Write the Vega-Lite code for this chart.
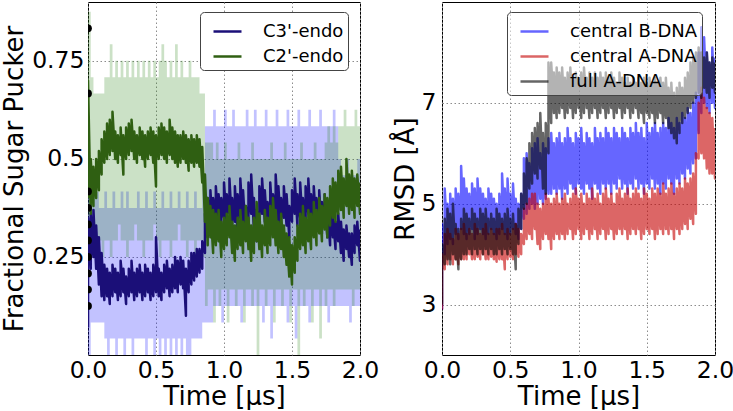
{
"$schema": "https://vega.github.io/schema/vega-lite/v6.json",
"background": "white",
"padding": {"left": 0, "top": 1, "right": 0, "bottom": 0},
"config": {
  "font": "DejaVu Sans",
  "view": {"stroke": "black", "strokeWidth": 1},
  "axis": {"labelFont": "DejaVu Sans", "titleFont": "DejaVu Sans", "labelFontSize": 23.5, "titleFontSize": 26, "titleFontWeight": "normal", "labelColor": "black", "titleColor": "black", "ticks": false, "domain": false, "grid": true, "gridColor": "#8c8c8c", "gridDash": [1.5, 2.5], "gridWidth": 1, "gridOpacity": 1, "zindex": 1, "labelPadding": 4, "labelFlush": false, "labelOverlap": false},
  "legend": {"labelFont": "DejaVu Sans", "labelFontSize": 18, "labelColor": "black", "symbolType": "stroke", "symbolSize": 784, "symbolStrokeWidth": 2.5, "strokeColor": "#444444", "cornerRadius": 4, "padding": 4, "rowPadding": -2, "labelOffset": 20, "symbolOffset": 8}
},
"datasets": {
"left": [
{"t":0,"b0":0,"b1":0.417,"g0":0.292,"g1":0.875,"u0":0.07,"u1":0.35,"w0":0.40,"w1":0.70},
{"t":0.02,"b0":0.083,"b1":0.417,"g0":0.292,"g1":0.708,"u0":0.22,"u1":0.36,"w0":0.36,"w1":0.50},
{"t":0.04,"b0":0.083,"b1":0.458,"g0":0.25,"g1":0.667,"u0":0.25,"u1":0.37,"w0":0.38,"w1":0.48},
{"t":0.06,"b0":0.083,"b1":0.417,"g0":0.292,"g1":0.667,"u0":0.22,"u1":0.33,"w0":0.40,"w1":0.50},
{"t":0.08,"b0":0.083,"b1":0.375,"g0":0.292,"g1":0.667,"u0":0.18,"u1":0.30,"w0":0.42,"w1":0.52},
{"t":0.10,"b0":0.083,"b1":0.375,"g0":0.25,"g1":0.667,"u0":0.15,"u1":0.26,"w0":0.46,"w1":0.55},
{"t":0.12,"b0":0.042,"b1":0.417,"g0":0.292,"g1":0.708,"u0":0.14,"u1":0.23,"w0":0.49,"w1":0.57},
{"t":0.14,"b0":0,"b1":0.375,"g0":0.292,"g1":0.708,"u0":0.15,"u1":0.22,"w0":0.50,"w1":0.59},
{"t":0.16,"b0":0.042,"b1":0.375,"g0":0.25,"g1":0.792,"u0":0.13,"u1":0.21,"w0":0.51,"w1":0.60},
{"t":0.18,"b0":0.042,"b1":0.417,"g0":0.292,"g1":0.708,"u0":0.15,"u1":0.23,"w0":0.52,"w1":0.62},
{"t":0.20,"b0":0,"b1":0.375,"g0":0.292,"g1":0.75,"u0":0.16,"u1":0.22,"w0":0.50,"w1":0.57},
{"t":0.22,"b0":0.042,"b1":0.375,"g0":0.333,"g1":0.708,"u0":0.14,"u1":0.21,"w0":0.49,"w1":0.56},
{"t":0.24,"b0":0.042,"b1":0.417,"g0":0.292,"g1":0.75,"u0":0.15,"u1":0.24,"w0":0.51,"w1":0.58},
{"t":0.26,"b0":0,"b1":0.375,"g0":0.292,"g1":0.708,"u0":0.16,"u1":0.22,"w0":0.46,"w1":0.56},
{"t":0.28,"b0":0.042,"b1":0.417,"g0":0.25,"g1":0.75,"u0":0.13,"u1":0.20,"w0":0.50,"w1":0.58},
{"t":0.30,"b0":0.042,"b1":0.375,"g0":0.292,"g1":0.708,"u0":0.15,"u1":0.22,"w0":0.51,"w1":0.59},
{"t":0.32,"b0":0,"b1":0.375,"g0":0.292,"g1":0.75,"u0":0.16,"u1":0.24,"w0":0.52,"w1":0.60},
{"t":0.34,"b0":0.042,"b1":0.375,"g0":0.333,"g1":0.708,"u0":0.14,"u1":0.21,"w0":0.50,"w1":0.57},
{"t":0.36,"b0":0.042,"b1":0.417,"g0":0.292,"g1":0.75,"u0":0.15,"u1":0.22,"w0":0.49,"w1":0.56},
{"t":0.38,"b0":0.042,"b1":0.375,"g0":0.292,"g1":0.708,"u0":0.16,"u1":0.23,"w0":0.51,"w1":0.58},
{"t":0.40,"b0":0.042,"b1":0.375,"g0":0.25,"g1":0.75,"u0":0.14,"u1":0.21,"w0":0.50,"w1":0.57},
{"t":0.42,"b0":0,"b1":0.417,"g0":0.292,"g1":0.708,"u0":0.15,"u1":0.23,"w0":0.48,"w1":0.56},
{"t":0.44,"b0":0.042,"b1":0.375,"g0":0.292,"g1":0.75,"u0":0.16,"u1":0.22,"w0":0.50,"w1":0.57},
{"t":0.46,"b0":0.042,"b1":0.375,"g0":0.292,"g1":0.708,"u0":0.14,"u1":0.21,"w0":0.51,"w1":0.58},
{"t":0.48,"b0":0,"b1":0.417,"g0":0.333,"g1":0.75,"u0":0.15,"u1":0.23,"w0":0.49,"w1":0.57},
{"t":0.50,"b0":0.042,"b1":0.375,"g0":0.292,"g1":0.708,"u0":0.16,"u1":0.30,"w0":0.43,"w1":0.56},
{"t":0.52,"b0":0,"b1":0.375,"g0":0.25,"g1":0.75,"u0":0.15,"u1":0.22,"w0":0.50,"w1":0.58},
{"t":0.54,"b0":0.042,"b1":0.417,"g0":0.292,"g1":0.792,"u0":0.14,"u1":0.21,"w0":0.51,"w1":0.59},
{"t":0.56,"b0":0,"b1":0.375,"g0":0.292,"g1":0.75,"u0":0.16,"u1":0.23,"w0":0.50,"w1":0.58},
{"t":0.58,"b0":0.042,"b1":0.375,"g0":0.292,"g1":0.708,"u0":0.17,"u1":0.24,"w0":0.49,"w1":0.57},
{"t":0.60,"b0":0,"b1":0.417,"g0":0.25,"g1":0.75,"u0":0.15,"u1":0.22,"w0":0.51,"w1":0.60},
{"t":0.62,"b0":0.042,"b1":0.375,"g0":0.292,"g1":0.708,"u0":0.16,"u1":0.23,"w0":0.50,"w1":0.58},
{"t":0.64,"b0":0,"b1":0.375,"g0":0.292,"g1":0.792,"u0":0.17,"u1":0.25,"w0":0.49,"w1":0.57},
{"t":0.66,"b0":0.042,"b1":0.417,"g0":0.333,"g1":0.708,"u0":0.16,"u1":0.24,"w0":0.48,"w1":0.56},
{"t":0.68,"b0":0,"b1":0.375,"g0":0.292,"g1":0.75,"u0":0.18,"u1":0.25,"w0":0.49,"w1":0.56},
{"t":0.70,"b0":0.042,"b1":0.375,"g0":0.292,"g1":0.708,"u0":0.17,"u1":0.24,"w0":0.50,"w1":0.57},
{"t":0.72,"b0":0,"b1":0.417,"g0":0.25,"g1":0.708,"u0":0.10,"u1":0.22,"w0":0.49,"w1":0.56},
{"t":0.74,"b0":0,"b1":0.375,"g0":0.292,"g1":0.75,"u0":0.16,"u1":0.24,"w0":0.47,"w1":0.55},
{"t":0.76,"b0":0.042,"b1":0.375,"g0":0.292,"g1":0.708,"u0":0.18,"u1":0.26,"w0":0.49,"w1":0.56},
{"t":0.78,"b0":0.042,"b1":0.417,"g0":0.25,"g1":0.708,"u0":0.19,"u1":0.26,"w0":0.48,"w1":0.55},
{"t":0.80,"b0":0.042,"b1":0.375,"g0":0.292,"g1":0.708,"u0":0.20,"u1":0.27,"w0":0.49,"w1":0.56},
{"t":0.82,"b0":0.042,"b1":0.375,"g0":0.292,"g1":0.667,"u0":0.21,"u1":0.27,"w0":0.48,"w1":0.55},
{"t":0.84,"b0":0.083,"b1":0.458,"g0":0.25,"g1":0.667,"u0":0.22,"u1":0.29,"w0":0.44,"w1":0.53},
{"t":0.86,"b0":0.083,"b1":0.583,"g0":0.125,"g1":0.542,"u0":0.26,"u1":0.36,"w0":0.34,"w1":0.46},
{"t":0.88,"b0":0.083,"b1":0.583,"g0":0.167,"g1":0.542,"u0":0.30,"u1":0.40,"w0":0.28,"w1":0.40},
{"t":0.90,"b0":0.083,"b1":0.583,"g0":0.167,"g1":0.542,"u0":0.32,"u1":0.42,"w0":0.30,"w1":0.38},
{"t":0.92,"b0":0.125,"b1":0.625,"g0":0.083,"g1":0.5,"u0":0.30,"u1":0.40,"w0":0.26,"w1":0.37},
{"t":0.94,"b0":0.125,"b1":0.583,"g0":0.167,"g1":0.542,"u0":0.34,"u1":0.43,"w0":0.28,"w1":0.36},
{"t":0.96,"b0":0.125,"b1":0.583,"g0":0.125,"g1":0.5,"u0":0.33,"u1":0.41,"w0":0.29,"w1":0.37},
{"t":0.98,"b0":0.083,"b1":0.583,"g0":0.167,"g1":0.5,"u0":0.31,"u1":0.40,"w0":0.25,"w1":0.34},
{"t":1.00,"b0":0.125,"b1":0.625,"g0":0.167,"g1":0.542,"u0":0.35,"u1":0.44,"w0":0.27,"w1":0.35},
{"t":1.02,"b0":0.125,"b1":0.583,"g0":0.083,"g1":0.5,"u0":0.33,"u1":0.41,"w0":0.28,"w1":0.36},
{"t":1.04,"b0":0.125,"b1":0.583,"g0":0.167,"g1":0.5,"u0":0.36,"u1":0.45,"w0":0.30,"w1":0.38},
{"t":1.06,"b0":0.125,"b1":0.625,"g0":0.167,"g1":0.5,"u0":0.32,"u1":0.40,"w0":0.26,"w1":0.34},
{"t":1.08,"b0":0.125,"b1":0.583,"g0":0.125,"g1":0.5,"u0":0.34,"u1":0.43,"w0":0.24,"w1":0.33},
{"t":1.10,"b0":0.125,"b1":0.583,"g0":0.167,"g1":0.542,"u0":0.31,"u1":0.41,"w0":0.27,"w1":0.35},
{"t":1.12,"b0":0.083,"b1":0.583,"g0":0.167,"g1":0.5,"u0":0.35,"u1":0.45,"w0":0.28,"w1":0.37},
{"t":1.14,"b0":0.125,"b1":0.583,"g0":0.083,"g1":0.5,"u0":0.33,"u1":0.42,"w0":0.26,"w1":0.34},
{"t":1.16,"b0":0.125,"b1":0.625,"g0":0.167,"g1":0.5,"u0":0.30,"u1":0.38,"w0":0.29,"w1":0.38},
{"t":1.18,"b0":0.125,"b1":0.583,"g0":0.167,"g1":0.5,"u0":0.34,"u1":0.44,"w0":0.27,"w1":0.35},
{"t":1.20,"b0":0.125,"b1":0.583,"g0":0.125,"g1":0.542,"u0":0.36,"u1":0.46,"w0":0.24,"w1":0.33},
{"t":1.22,"b0":0.125,"b1":0.625,"g0":0.167,"g1":0.5,"u0":0.32,"u1":0.40,"w0":0.26,"w1":0.35},
{"t":1.24,"b0":0.125,"b1":0.583,"g0":0,"g1":0.5,"u0":0.29,"u1":0.37,"w0":0.29,"w1":0.39},
{"t":1.26,"b0":0.125,"b1":0.583,"g0":0.167,"g1":0.5,"u0":0.33,"u1":0.43,"w0":0.27,"w1":0.36},
{"t":1.28,"b0":0.083,"b1":0.583,"g0":0.167,"g1":0.5,"u0":0.36,"u1":0.45,"w0":0.25,"w1":0.33},
{"t":1.30,"b0":0.125,"b1":0.625,"g0":0.125,"g1":0.5,"u0":0.34,"u1":0.42,"w0":0.28,"w1":0.37},
{"t":1.32,"b0":0.125,"b1":0.583,"g0":0.167,"g1":0.5,"u0":0.31,"u1":0.39,"w0":0.26,"w1":0.35},
{"t":1.34,"b0":0.042,"b1":0.583,"g0":0.167,"g1":0.542,"u0":0.35,"u1":0.44,"w0":0.28,"w1":0.38},
{"t":1.36,"b0":0.125,"b1":0.583,"g0":0.083,"g1":0.5,"u0":0.33,"u1":0.41,"w0":0.30,"w1":0.40},
{"t":1.38,"b0":0.125,"b1":0.625,"g0":0.167,"g1":0.5,"u0":0.36,"u1":0.46,"w0":0.28,"w1":0.37},
{"t":1.40,"b0":0.125,"b1":0.583,"g0":0.167,"g1":0.5,"u0":0.34,"u1":0.43,"w0":0.26,"w1":0.34},
{"t":1.42,"b0":0.125,"b1":0.583,"g0":0.125,"g1":0.5,"u0":0.31,"u1":0.40,"w0":0.27,"w1":0.36},
{"t":1.44,"b0":0.125,"b1":0.583,"g0":0.167,"g1":0.542,"u0":0.35,"u1":0.43,"w0":0.25,"w1":0.33},
{"t":1.46,"b0":0.083,"b1":0.625,"g0":0.167,"g1":0.5,"u0":0.33,"u1":0.41,"w0":0.23,"w1":0.31},
{"t":1.48,"b0":0.125,"b1":0.583,"g0":0.083,"g1":0.5,"u0":0.30,"u1":0.38,"w0":0.20,"w1":0.30},
{"t":1.50,"b0":0.125,"b1":0.583,"g0":0.167,"g1":0.5,"u0":0.34,"u1":0.42,"w0":0.18,"w1":0.28},
{"t":1.52,"b0":0.042,"b1":0.583,"g0":0.167,"g1":0.5,"u0":0.36,"u1":0.45,"w0":0.21,"w1":0.30},
{"t":1.54,"b0":0.125,"b1":0.625,"g0":0,"g1":0.5,"u0":0.33,"u1":0.41,"w0":0.24,"w1":0.33},
{"t":1.56,"b0":0.125,"b1":0.583,"g0":0.167,"g1":0.542,"u0":0.35,"u1":0.44,"w0":0.27,"w1":0.36},
{"t":1.58,"b0":0.125,"b1":0.583,"g0":0.125,"g1":0.5,"u0":0.32,"u1":0.40,"w0":0.28,"w1":0.38},
{"t":1.60,"b0":0.125,"b1":0.583,"g0":0.167,"g1":0.5,"u0":0.34,"u1":0.43,"w0":0.26,"w1":0.35},
{"t":1.62,"b0":0.083,"b1":0.625,"g0":0.167,"g1":0.5,"u0":0.36,"u1":0.45,"w0":0.29,"w1":0.37},
{"t":1.64,"b0":0.125,"b1":0.583,"g0":0.083,"g1":0.5,"u0":0.33,"u1":0.41,"w0":0.27,"w1":0.36},
{"t":1.66,"b0":0.125,"b1":0.583,"g0":0.167,"g1":0.542,"u0":0.35,"u1":0.43,"w0":0.30,"w1":0.39},
{"t":1.68,"b0":0.125,"b1":0.583,"g0":0.167,"g1":0.5,"u0":0.32,"u1":0.40,"w0":0.28,"w1":0.37},
{"t":1.70,"b0":0.125,"b1":0.625,"g0":0.042,"g1":0.5,"u0":0.34,"u1":0.42,"w0":0.31,"w1":0.40},
{"t":1.72,"b0":0.125,"b1":0.583,"g0":0.167,"g1":0.5,"u0":0.31,"u1":0.39,"w0":0.29,"w1":0.38},
{"t":1.74,"b0":0.125,"b1":0.583,"g0":0.125,"g1":0.542,"u0":0.33,"u1":0.41,"w0":0.32,"w1":0.41},
{"t":1.76,"b0":0.083,"b1":0.583,"g0":0.167,"g1":0.583,"u0":0.30,"u1":0.38,"w0":0.30,"w1":0.40},
{"t":1.78,"b0":0.125,"b1":0.583,"g0":0.167,"g1":0.542,"u0":0.28,"u1":0.37,"w0":0.33,"w1":0.43},
{"t":1.80,"b0":0.125,"b1":0.625,"g0":0.125,"g1":0.583,"u0":0.30,"u1":0.36,"w0":0.35,"w1":0.45},
{"t":1.82,"b0":0.125,"b1":0.583,"g0":0.167,"g1":0.542,"u0":0.27,"u1":0.34,"w0":0.34,"w1":0.44},
{"t":1.84,"b0":0.125,"b1":0.5,"g0":0.167,"g1":0.583,"u0":0.29,"u1":0.36,"w0":0.36,"w1":0.47},
{"t":1.86,"b0":0.125,"b1":0.458,"g0":0.167,"g1":0.583,"u0":0.26,"u1":0.34,"w0":0.37,"w1":0.48},
{"t":1.88,"b0":0.125,"b1":0.458,"g0":0.167,"g1":0.625,"u0":0.24,"u1":0.32,"w0":0.35,"w1":0.45},
{"t":1.90,"b0":0.125,"b1":0.5,"g0":0.167,"g1":0.583,"u0":0.27,"u1":0.33,"w0":0.38,"w1":0.50},
{"t":1.92,"b0":0.083,"b1":0.458,"g0":0.167,"g1":0.583,"u0":0.25,"u1":0.31,"w0":0.36,"w1":0.46},
{"t":1.94,"b0":0.125,"b1":0.458,"g0":0.125,"g1":0.583,"u0":0.23,"u1":0.31,"w0":0.37,"w1":0.47},
{"t":1.96,"b0":0.125,"b1":0.458,"g0":0.167,"g1":0.625,"u0":0.26,"u1":0.33,"w0":0.35,"w1":0.45},
{"t":1.98,"b0":0.125,"b1":0.5,"g0":0.167,"g1":0.583,"u0":0.28,"u1":0.34,"w0":0.38,"w1":0.46},
{"t":2.00,"b0":0.125,"b1":0.458,"g0":0.167,"g1":0.583,"u0":0.24,"u1":0.32,"w0":0.36,"w1":0.44}
],
"dots": [
{"t":0,"v":0.833},{"t":0,"v":0.667},{"t":0,"v":0.417},{"t":0,"v":0.375},{"t":0,"v":0.333},
{"t":0,"v":0.292},{"t":0,"v":0.25},{"t":0,"v":0.208},{"t":0,"v":0.167},{"t":0,"v":0.125}
],
"right": [
{"t":0,"B0":2.9,"B1":4.6,"A0":2.9,"A1":4.0,"F0":3.0,"F1":4.2},
{"t":0.02,"B0":4.0,"B1":5.3,"A0":3.7,"A1":4.4,"F0":3.8,"F1":4.7},
{"t":0.04,"B0":4.2,"B1":5.0,"A0":3.8,"A1":4.5,"F0":3.9,"F1":4.9},
{"t":0.06,"B0":4.3,"B1":5.2,"A0":3.9,"A1":4.4,"F0":3.8,"F1":4.8},
{"t":0.08,"B0":4.2,"B1":5.1,"A0":3.8,"A1":4.3,"F0":4.0,"F1":5.0},
{"t":0.10,"B0":4.4,"B1":5.3,"A0":3.9,"A1":4.5,"F0":3.9,"F1":4.6},
{"t":0.12,"B0":4.3,"B1":5.2,"A0":3.8,"A1":4.4,"F0":3.7,"F1":4.5},
{"t":0.14,"B0":4.5,"B1":5.75,"A0":3.9,"A1":4.5,"F0":3.9,"F1":4.7},
{"t":0.16,"B0":4.4,"B1":5.5,"A0":3.9,"A1":4.6,"F0":4.0,"F1":4.9},
{"t":0.18,"B0":4.3,"B1":5.3,"A0":3.9,"A1":4.4,"F0":4.0,"F1":4.8},
{"t":0.20,"B0":4.4,"B1":5.2,"A0":4.0,"A1":4.5,"F0":4.1,"F1":4.7},
{"t":0.22,"B0":4.5,"B1":5.4,"A0":3.9,"A1":4.4,"F0":4.0,"F1":4.9},
{"t":0.24,"B0":4.3,"B1":5.3,"A0":3.9,"A1":4.6,"F0":4.1,"F1":4.8},
{"t":0.26,"B0":4.4,"B1":5.5,"A0":3.95,"A1":4.5,"F0":4.0,"F1":4.7},
{"t":0.28,"B0":4.5,"B1":5.3,"A0":3.9,"A1":4.4,"F0":4.1,"F1":4.9},
{"t":0.30,"B0":4.4,"B1":5.2,"A0":4.0,"A1":4.5,"F0":4.0,"F1":4.8},
{"t":0.32,"B0":4.3,"B1":5.1,"A0":3.9,"A1":4.6,"F0":4.1,"F1":4.9},
{"t":0.34,"B0":4.4,"B1":5.3,"A0":3.9,"A1":4.4,"F0":4.0,"F1":4.7},
{"t":0.36,"B0":4.5,"B1":5.2,"A0":3.95,"A1":4.5,"F0":4.1,"F1":4.8},
{"t":0.38,"B0":4.4,"B1":5.1,"A0":3.9,"A1":4.4,"F0":4.0,"F1":4.7},
{"t":0.40,"B0":4.3,"B1":5.0,"A0":3.85,"A1":4.5,"F0":4.0,"F1":4.9},
{"t":0.42,"B0":4.4,"B1":5.2,"A0":3.9,"A1":4.5,"F0":4.1,"F1":4.8},
{"t":0.44,"B0":4.5,"B1":5.6,"A0":3.9,"A1":4.6,"F0":4.0,"F1":4.7},
{"t":0.46,"B0":4.4,"B1":5.3,"A0":3.7,"A1":4.4,"F0":4.1,"F1":4.8},
{"t":0.48,"B0":4.3,"B1":5.5,"A0":3.9,"A1":4.5,"F0":4.0,"F1":4.9},
{"t":0.50,"B0":4.4,"B1":5.2,"A0":3.95,"A1":4.4,"F0":4.1,"F1":4.7},
{"t":0.52,"B0":4.5,"B1":5.4,"A0":3.9,"A1":4.5,"F0":4.0,"F1":4.8},
{"t":0.54,"B0":4.4,"B1":5.1,"A0":4.0,"A1":4.6,"F0":3.7,"F1":4.6},
{"t":0.56,"B0":4.3,"B1":5.0,"A0":3.95,"A1":4.5,"F0":4.2,"F1":4.9},
{"t":0.58,"B0":4.5,"B1":5.2,"A0":4.0,"A1":4.4,"F0":4.5,"F1":5.2},
{"t":0.60,"B0":4.7,"B1":5.9,"A0":4.2,"A1":4.9,"F0":4.9,"F1":5.6},
{"t":0.62,"B0":4.8,"B1":6.0,"A0":4.3,"A1":5.0,"F0":5.0,"F1":5.9},
{"t":0.64,"B0":4.9,"B1":5.8,"A0":4.4,"A1":5.1,"F0":5.3,"F1":6.2},
{"t":0.66,"B0":5.0,"B1":6.1,"A0":4.3,"A1":5.2,"F0":5.4,"F1":6.4},
{"t":0.68,"B0":4.9,"B1":6.2,"A0":4.5,"A1":5.2,"F0":5.6,"F1":6.5},
{"t":0.70,"B0":5.0,"B1":6.3,"A0":4.2,"A1":5.0,"F0":5.5,"F1":6.6},
{"t":0.72,"B0":5.1,"B1":6.0,"A0":4.1,"A1":4.9,"F0":5.7,"F1":6.8},
{"t":0.74,"B0":5.0,"B1":6.2,"A0":4.3,"A1":5.0,"F0":5.3,"F1":6.4},
{"t":0.76,"B0":5.1,"B1":6.1,"A0":4.4,"A1":5.2,"F0":5.2,"F1":6.6},
{"t":0.78,"B0":5.2,"B1":6.3,"A0":4.3,"A1":5.1,"F0":6.0,"F1":7.8},
{"t":0.80,"B0":5.2,"B1":6.4,"A0":4.1,"A1":5.0,"F0":6.6,"F1":7.8},
{"t":0.82,"B0":5.3,"B1":6.2,"A0":4.3,"A1":5.1,"F0":6.8,"F1":7.6},
{"t":0.84,"B0":5.2,"B1":6.3,"A0":4.4,"A1":5.2,"F0":6.7,"F1":7.7},
{"t":0.86,"B0":5.3,"B1":6.4,"A0":4.3,"A1":5.0,"F0":6.8,"F1":7.6},
{"t":0.88,"B0":5.1,"B1":6.2,"A0":4.4,"A1":5.1,"F0":6.9,"F1":7.7},
{"t":0.90,"B0":5.3,"B1":6.3,"A0":4.3,"A1":5.2,"F0":6.7,"F1":7.5},
{"t":0.92,"B0":5.2,"B1":6.5,"A0":4.4,"A1":5.0,"F0":6.8,"F1":7.6},
{"t":0.94,"B0":5.4,"B1":6.3,"A0":4.5,"A1":5.1,"F0":6.9,"F1":7.7},
{"t":0.96,"B0":5.3,"B1":6.2,"A0":4.3,"A1":5.2,"F0":6.7,"F1":7.5},
{"t":0.98,"B0":5.2,"B1":6.4,"A0":4.4,"A1":5.3,"F0":6.8,"F1":7.6},
{"t":1.00,"B0":5.4,"B1":6.3,"A0":4.5,"A1":5.1,"F0":6.9,"F1":7.5},
{"t":1.02,"B0":5.3,"B1":6.5,"A0":4.3,"A1":5.2,"F0":6.7,"F1":7.6},
{"t":1.04,"B0":5.2,"B1":6.2,"A0":4.4,"A1":5.0,"F0":6.8,"F1":7.7},
{"t":1.06,"B0":5.4,"B1":6.4,"A0":4.5,"A1":5.2,"F0":6.9,"F1":7.5},
{"t":1.08,"B0":5.3,"B1":6.3,"A0":4.3,"A1":5.1,"F0":6.7,"F1":7.6},
{"t":1.10,"B0":5.1,"B1":6.2,"A0":4.4,"A1":5.3,"F0":6.8,"F1":7.5},
{"t":1.12,"B0":5.4,"B1":6.5,"A0":4.5,"A1":5.1,"F0":6.9,"F1":7.6},
{"t":1.14,"B0":5.3,"B1":6.3,"A0":4.3,"A1":5.2,"F0":6.7,"F1":7.5},
{"t":1.16,"B0":5.2,"B1":6.4,"A0":4.4,"A1":5.0,"F0":6.8,"F1":7.6},
{"t":1.18,"B0":5.4,"B1":6.3,"A0":4.5,"A1":5.2,"F0":6.9,"F1":7.5},
{"t":1.20,"B0":5.3,"B1":6.5,"A0":4.3,"A1":5.3,"F0":6.7,"F1":7.6},
{"t":1.22,"B0":5.4,"B1":6.4,"A0":4.4,"A1":5.1,"F0":6.8,"F1":7.5},
{"t":1.24,"B0":5.2,"B1":6.3,"A0":4.5,"A1":5.2,"F0":6.9,"F1":7.6},
{"t":1.26,"B0":5.4,"B1":6.5,"A0":4.3,"A1":5.0,"F0":6.7,"F1":7.5},
{"t":1.28,"B0":5.3,"B1":6.4,"A0":4.4,"A1":5.2,"F0":6.8,"F1":7.4},
{"t":1.30,"B0":5.5,"B1":6.3,"A0":4.5,"A1":5.3,"F0":6.9,"F1":7.6},
{"t":1.32,"B0":5.3,"B1":6.5,"A0":4.4,"A1":5.1,"F0":6.7,"F1":7.5},
{"t":1.34,"B0":5.4,"B1":6.4,"A0":4.5,"A1":5.2,"F0":6.8,"F1":7.4},
{"t":1.36,"B0":5.2,"B1":6.3,"A0":4.3,"A1":5.3,"F0":6.9,"F1":7.5},
{"t":1.38,"B0":5.4,"B1":6.5,"A0":4.4,"A1":5.1,"F0":6.7,"F1":7.4},
{"t":1.40,"B0":5.3,"B1":6.4,"A0":4.5,"A1":5.2,"F0":6.8,"F1":7.5},
{"t":1.42,"B0":5.5,"B1":6.6,"A0":4.4,"A1":5.3,"F0":6.9,"F1":7.4},
{"t":1.44,"B0":5.3,"B1":6.4,"A0":4.5,"A1":5.2,"F0":6.7,"F1":7.5},
{"t":1.46,"B0":5.4,"B1":6.5,"A0":4.3,"A1":5.1,"F0":6.8,"F1":7.4},
{"t":1.48,"B0":5.2,"B1":6.3,"A0":4.4,"A1":5.3,"F0":6.6,"F1":7.5},
{"t":1.50,"B0":5.4,"B1":6.6,"A0":4.5,"A1":5.2,"F0":6.8,"F1":7.4},
{"t":1.52,"B0":5.3,"B1":6.4,"A0":4.4,"A1":5.1,"F0":6.7,"F1":7.5},
{"t":1.54,"B0":5.5,"B1":6.5,"A0":4.5,"A1":5.3,"F0":6.8,"F1":7.4},
{"t":1.56,"B0":5.3,"B1":6.6,"A0":4.3,"A1":5.2,"F0":6.6,"F1":7.5},
{"t":1.58,"B0":5.4,"B1":6.4,"A0":4.4,"A1":5.3,"F0":6.7,"F1":7.4},
{"t":1.60,"B0":5.2,"B1":6.5,"A0":4.5,"A1":5.2,"F0":6.8,"F1":7.5},
{"t":1.62,"B0":5.4,"B1":6.6,"A0":4.4,"A1":5.4,"F0":6.6,"F1":7.4},
{"t":1.64,"B0":5.3,"B1":6.5,"A0":4.5,"A1":5.2,"F0":6.7,"F1":7.5},
{"t":1.66,"B0":5.5,"B1":6.7,"A0":4.4,"A1":5.3,"F0":6.5,"F1":7.3},
{"t":1.68,"B0":5.4,"B1":6.6,"A0":4.5,"A1":5.4,"F0":6.4,"F1":7.4},
{"t":1.70,"B0":5.2,"B1":6.5,"A0":4.3,"A1":5.2,"F0":6.3,"F1":7.2},
{"t":1.72,"B0":5.5,"B1":6.7,"A0":4.5,"A1":5.3,"F0":6.2,"F1":7.3},
{"t":1.74,"B0":5.4,"B1":6.6,"A0":4.4,"A1":5.4,"F0":6.4,"F1":7.4},
{"t":1.76,"B0":5.6,"B1":6.8,"A0":4.5,"A1":5.3,"F0":6.6,"F1":7.3},
{"t":1.78,"B0":5.5,"B1":6.7,"A0":4.6,"A1":5.5,"F0":6.7,"F1":7.5},
{"t":1.80,"B0":5.7,"B1":6.9,"A0":4.5,"A1":5.4,"F0":6.8,"F1":7.6},
{"t":1.82,"B0":5.6,"B1":6.8,"A0":4.7,"A1":5.5,"F0":6.9,"F1":7.8},
{"t":1.84,"B0":5.8,"B1":7.0,"A0":4.6,"A1":5.6,"F0":7.0,"F1":7.9},
{"t":1.86,"B0":5.9,"B1":7.2,"A0":4.8,"A1":6.0,"F0":7.1,"F1":8.0},
{"t":1.88,"B0":6.4,"B1":8.0,"A0":5.9,"A1":7.0,"F0":7.2,"F1":8.1},
{"t":1.90,"B0":6.8,"B1":8.5,"A0":6.0,"A1":7.3,"F0":7.1,"F1":8.0},
{"t":1.92,"B0":7.0,"B1":8.3,"A0":5.9,"A1":7.1,"F0":7.3,"F1":7.9},
{"t":1.94,"B0":6.9,"B1":8.0,"A0":5.7,"A1":6.9,"F0":7.2,"F1":8.0},
{"t":1.96,"B0":6.8,"B1":7.8,"A0":5.6,"A1":6.8,"F0":7.1,"F1":7.8},
{"t":1.98,"B0":7.0,"B1":8.1,"A0":5.6,"A1":6.7,"F0":7.3,"F1":7.9},
{"t":2.00,"B0":6.9,"B1":7.9,"A0":5.5,"A1":6.5,"F0":7.2,"F1":7.8}
]
},
"bounds": "flush",
"spacing": 82,
"resolve": {"scale": {"color": "independent"}, "legend": {"color": "independent"}},
"hconcat": [
{
  "width": 272, "height": 353,
  "data": {"name": "left"},
  "encoding": {
    "x": {"field": "t", "type": "quantitative", "title": "Time [μs]", "scale": {"domain": [0, 2], "nice": false}, "axis": {"values": [0, 0.5, 1, 1.5, 2], "format": ".1f", "labelPadding": 3, "titlePadding": 2}}
  },
  "layer": [
    {"mark": {"type": "area", "interpolate": "step-after", "color": "#0000ff", "opacity": 0.24, "clip": true},
     "encoding": {"y": {"field": "b0", "type": "quantitative", "title": "Fractional Sugar Pucker", "scale": {"domain": [0, 0.9], "nice": false}, "axis": {"values": [0.25, 0.5, 0.75], "labelExpr": "'' + datum.value", "titlePadding": 4.5}}, "y2": {"field": "b1"}}},
    {"mark": {"type": "area", "interpolate": "step-after", "color": "#1e7d0a", "opacity": 0.23, "clip": true},
     "encoding": {"y": {"field": "g0", "type": "quantitative", "title": "Fractional Sugar Pucker", "scale": {"domain": [0, 0.9], "nice": false}}, "y2": {"field": "g1"}}},
    {"transform": [{"fold": ["u0", "u1"], "as": ["k", "v"]}],
     "mark": {"type": "line", "strokeWidth": 2.5, "strokeJoin": "round", "clip": true},
     "encoding": {"y": {"field": "v", "type": "quantitative", "title": "Fractional Sugar Pucker", "scale": {"domain": [0, 0.9], "nice": false}},
       "color": {"datum": "C3'-endo", "type": "nominal", "scale": {"domain": ["C3'-endo", "C2'-endo"], "range": ["#1b0f78", "#2f5f12"]},
         "legend": {"orient": "none", "legendX": 112, "legendY": 10, "title": null, "fillColor": "white"}}}},
    {"transform": [{"fold": ["w0", "w1"], "as": ["k", "v"]}],
     "mark": {"type": "line", "strokeWidth": 2.5, "strokeJoin": "round", "clip": true},
     "encoding": {"y": {"field": "v", "type": "quantitative", "title": "Fractional Sugar Pucker", "scale": {"domain": [0, 0.9], "nice": false}},
       "color": {"datum": "C2'-endo", "type": "nominal"}}},
    {"data": {"name": "dots"},
     "mark": {"type": "point", "filled": true, "color": "black", "opacity": 1, "size": 60, "clip": true},
     "encoding": {"y": {"field": "v", "type": "quantitative", "title": "Fractional Sugar Pucker", "scale": {"domain": [0, 0.9], "nice": false}}}}
  ]
},
{
  "width": 273, "height": 353,
  "data": {"name": "right"},
  "encoding": {
    "x": {"field": "t", "type": "quantitative", "title": "Time [μs]", "scale": {"domain": [0, 2], "nice": false}, "axis": {"values": [0, 0.5, 1, 1.5, 2], "format": ".1f", "labelPadding": 3, "titlePadding": 2}}
  },
  "layer": [
    {"transform": [{"fold": ["B0", "B1"], "as": ["k", "v"]}],
     "mark": {"type": "line", "strokeWidth": 2.5, "strokeJoin": "round", "opacity": 0.6, "clip": true},
     "encoding": {"y": {"field": "v", "type": "quantitative", "title": "RMSD [Å]", "scale": {"domain": [2, 9], "nice": false}, "axis": {"values": [3, 5, 7], "format": "d", "labelPadding": 6, "titlePadding": 3}},
       "color": {"datum": "central B-DNA", "type": "nominal", "scale": {"domain": ["central B-DNA", "central A-DNA", "full A-DNA"], "range": ["#0000ff", "#c40000", "#000000"]},
         "legend": {"orient": "none", "legendX": 65, "legendY": 10, "title": null, "fillColor": "rgba(255,255,255,0.5)"}}}},
    {"transform": [{"fold": ["A0", "A1"], "as": ["k", "v"]}],
     "mark": {"type": "line", "strokeWidth": 2.5, "strokeJoin": "round", "opacity": 0.6, "clip": true},
     "encoding": {"y": {"field": "v", "type": "quantitative", "title": "RMSD [Å]", "scale": {"domain": [2, 9], "nice": false}},
       "color": {"datum": "central A-DNA", "type": "nominal"}}},
    {"transform": [{"fold": ["F0", "F1"], "as": ["k", "v"]}],
     "mark": {"type": "line", "strokeWidth": 2.5, "strokeJoin": "round", "opacity": 0.6, "clip": true},
     "encoding": {"y": {"field": "v", "type": "quantitative", "title": "RMSD [Å]", "scale": {"domain": [2, 9], "nice": false}},
       "color": {"datum": "full A-DNA", "type": "nominal"}}}
  ]
}
]
}
